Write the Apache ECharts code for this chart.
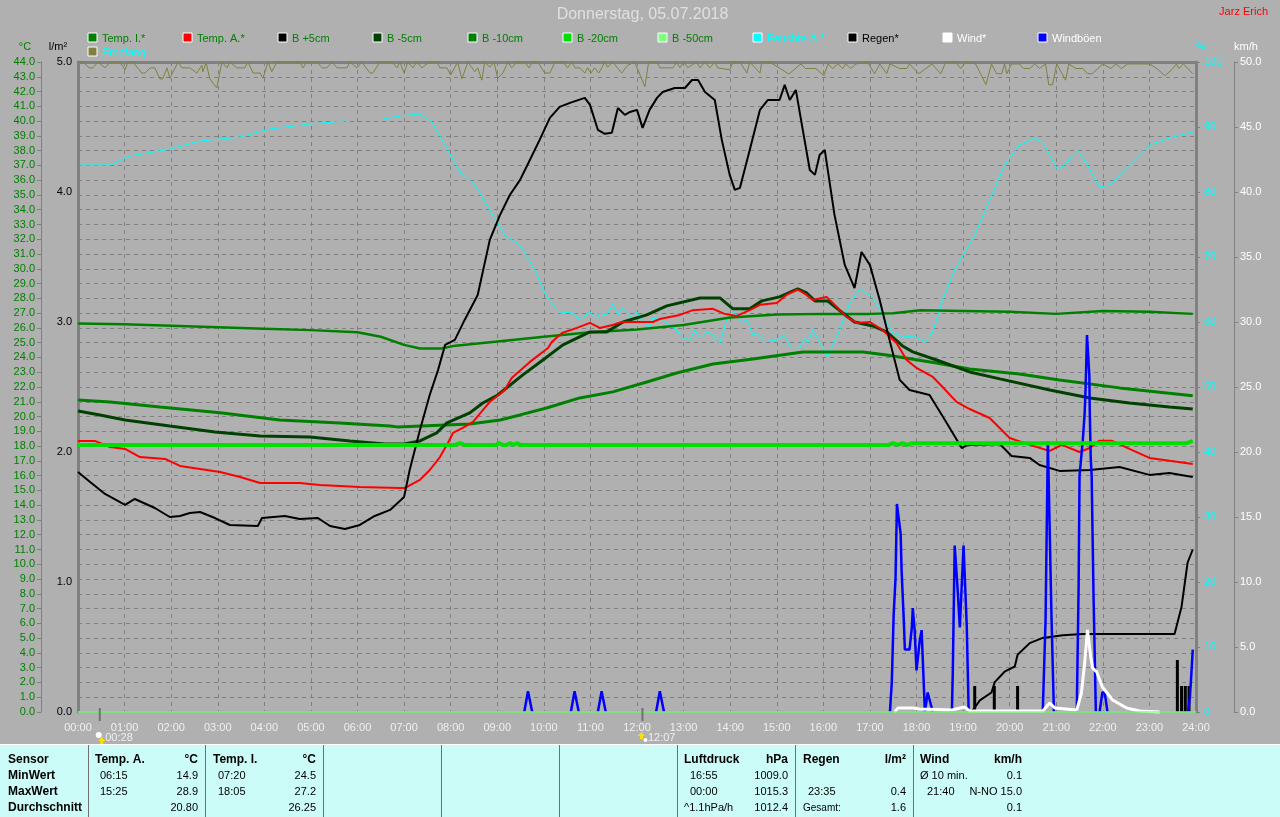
<!DOCTYPE html>
<html><head><meta charset="utf-8">
<style>html,body{margin:0;padding:0;background:#b0b0b0}#c{width:1280px;height:817px}</style>
<script src="https://cdn.jsdelivr.net/npm/echarts@6/dist/echarts.min.js"></script>
</head><body><div id="c"></div>
<script>
const titleText='Donnerstag, 05.07.2018';
const ownerText='Jarz Erich';
const hourLabels=['00:00','01:00','02:00','03:00','04:00','05:00','06:00','07:00','08:00','09:00','10:00','11:00','12:00','13:00','14:00','15:00','16:00','17:00','18:00','19:00','20:00','21:00','22:00','23:00','24:00'];
const legendNames=['Temp. I.*','Temp. A.*','B +5cm','B -5cm','B -10cm','B -20cm','B -50cm','Feuchte A.*','Regen*','Wind*','Windböen','Empfang'];
const legendColors=['#008000','#ff0000','#000000','#004000','#008000','#00e000','#80ff80','#00ffff','#000000','#ffffff','#0000ff','#808040'];
const legendTextColors=['#008000','#008000','#008000','#008000','#008000','#008000','#008000','#00ffff','#000000','#ffffff','#ffffff','#00ffff'];

const tempInside=[[0,26.3],[1,26.25],[2,26.15],[3,26.05],[4,25.95],[5,25.85],[6,25.7],[6.5,25.4],[7,24.85],[7.34,24.6],[7.8,24.6],[8.1,24.8],[9.06,25.1],[10,25.4],[11,25.7],[12,25.9],[13,26.2],[14,26.7],[15,26.9],[16,26.95],[17,26.95],[17.5,27],[18.08,27.2],[19,27.15],[20,27.1],[21,26.95],[22,27.15],[23,27.1],[23.93,26.95]];
const tempOutside=[[0,18.35],[.36,18.35],[.69,17.94],[1.01,17.81],[1.33,17.26],[1.87,17.13],[2.19,16.66],[3.05,16.25],[3.48,15.91],[3.91,15.5],[4.76,15.5],[5.19,15.37],[6.05,15.23],[6.91,15.17],[7.02,15.17],[7.34,15.71],[7.55,16.38],[7.77,17.26],[7.94,18.21],[8.05,18.89],[8.26,19.23],[8.48,19.64],[8.84,20.99],[9.16,21.8],[9.31,22.61],[9.7,23.7],[10.09,24.64],[10.17,25.05],[10.39,25.66],[10.71,26],[10.99,26.34],[11.2,26],[11.48,26.2],[11.67,26.4],[12.34,26.4],[12.49,26.6],[12.7,26.74],[12.92,26.88],[13.2,27.2],[13.63,27.29],[13.88,26.95],[14.14,26.81],[14.42,27.2],[14.64,27.56],[15,27.69],[15.21,28.23],[15.45,28.6],[15.64,28.23],[15.77,27.89],[16.07,28.1],[16.29,27.42],[16.5,26.74],[16.72,26.34],[17,26.4],[17.27,25.86],[17.57,24.98],[17.79,23.83],[18,23.29],[18.35,22.68],[18.56,22],[18.86,20.99],[19.14,20.51],[19.57,19.9],[20,18.55],[20.43,18.08],[20.86,17.67],[21.12,18.08],[21.5,17.6],[21.72,17.87],[21.93,18.37],[22.19,18.37],[22.57,17.81],[23,17.2],[23.43,17],[23.93,16.79]];
const soilPlus5=[[0,16.25],[.26,15.57],[.58,14.76],[1.01,14.02],[1.22,14.42],[1.65,13.81],[1.97,13.2],[2.19,13.27],[2.4,13.47],[2.62,13.54],[2.94,13.13],[3.26,12.66],[3.86,12.59],[3.95,13.13],[4.44,13.27],[4.76,13.07],[5.15,13.13],[5.41,12.59],[5.73,12.39],[6.05,12.66],[6.37,13.27],[6.7,13.68],[7,14.56],[7.12,16.38],[7.34,19.09],[7.55,21.46],[7.73,23.16],[7.88,24.85],[8.09,25.19],[8.3,26.54],[8.58,28.23],[8.84,31.96],[9.06,33.65],[9.27,35],[9.49,36.02],[9.7,37.37],[9.91,38.73],[10.13,40.22],[10.34,40.96],[10.56,41.23],[10.88,41.57],[10.99,41.1],[11.16,39.41],[11.31,39.14],[11.46,39.21],[11.59,40.89],[11.74,40.42],[11.85,40.62],[12,40.76],[12.12,39.54],[12.27,40.76],[12.43,41.57],[12.55,41.97],[12.81,42.24],[13.03,42.24],[13.18,42.78],[13.31,42.78],[13.46,41.97],[13.67,41.43],[13.82,38.73],[13.99,36.36],[14.1,35.34],[14.21,35.48],[14.42,38.05],[14.64,40.76],[14.81,41.43],[15.06,41.43],[15.17,42.45],[15.28,41.43],[15.41,42.11],[15.54,39.74],[15.71,36.69],[15.82,36.36],[15.92,37.71],[16.03,38.05],[16.24,33.65],[16.46,30.26],[16.67,28.7],[16.82,31.14],[17,30.26],[17.21,27.89],[17.42,25.19],[17.64,22.48],[17.85,21.8],[18.28,21.46],[18.61,19.77],[18.97,17.87],[19.1,18.08],[19.79,18.14],[20.04,17.33],[20.43,17.2],[20.64,16.72],[21.07,16.32],[21.72,16.38],[22.36,16.59],[23,16.05],[23.43,16.18],[23.93,15.91]];
const soilMinus5=[[0,20.38],[.47,20.1],[1.01,19.77],[1.97,19.36],[2.94,18.96],[3.91,18.69],[4.98,18.62],[5.84,18.35],[6.59,18.14],[7.0,18.14],[7.34,18.35],[7.7,18.89],[7.92,19.57],[8.41,20.25],[8.69,20.92],[9.01,21.46],[9.55,22.82],[9.98,23.83],[10.41,24.85],[10.99,25.73],[11.35,25.73],[11.7,26.4],[12.21,26.88],[12.64,27.49],[13.35,28.03],[13.78,28.03],[14.06,27.29],[14.42,27.29],[14.68,27.83],[15.06,28.1],[15.45,28.64],[15.64,28.37],[15.82,27.83],[16.09,27.83],[16.42,27.01],[16.67,26.4],[17.06,26.13],[17.36,25.73],[17.7,24.78],[17.92,24.38],[18.43,23.83],[19.14,23.02],[19.79,22.55],[20.86,21.8],[21.72,21.26],[22.57,20.92],[23.43,20.65],[23.93,20.51]];
const soilMinus10=[[0,21.12],[.69,20.99],[1.76,20.65],[3.05,20.25],[4.33,19.77],[5.62,19.57],[6.7,19.36],[6.85,19.3],[8.41,19.5],[9.06,19.77],[9.49,20.11],[10.06,20.58],[10.77,21.26],[11.48,21.67],[12.21,22.34],[12.85,22.95],[13.63,23.56],[14.49,23.9],[15.56,24.37],[16.85,24.37],[17.36,24.17],[18.43,23.63],[19.14,23.22],[20.21,22.88],[21.07,22.48],[22.36,21.94],[23.93,21.4]];
const soilMinus20=[[0,18.08],[8.1,18.08],[8.2,18.2],[8.3,18.08],[8.98,18.08],[9.03,18.2],[9.12,18.08],[9.2,18.08],[9.27,18.2],[9.36,18.08],[9.42,18.2],[9.5,18.08],[17.4,18.08],[17.5,18.2],[17.6,18.08],[17.7,18.2],[17.8,18.08],[17.9,18.2],[23.8,18.2],[23.93,18.35]];
const soilMinus50=[[0,0],[24,0]];
const humidity=[[.04,84.15],[.69,84.15],[1.12,85.54],[1.97,86.6],[2.62,87.85],[3.48,88.46],[4.12,89.69],[4.98,90.46],[5.73,90.92],[6.1,null],[6.55,91.23],[6.91,91.7],[7.34,92],[7.6,90.77],[7.88,87.23],[8.2,83.08],[8.52,81.08],[8.84,77.23],[9.16,73.38],[9.49,71.85],[9.81,68],[10.02,64.46],[10.19,62.62],[10.34,61.38],[10.62,61.54],[10.77,60.31],[10.99,61.54],[11.14,60.31],[11.2,61.38],[11.35,61.08],[11.48,62.77],[11.59,61.08],[11.67,62.15],[11.85,60.77],[12,61.54],[12.12,60],[12.27,59.23],[12.34,60.62],[12.55,60.31],[12.7,59.54],[12.85,58.77],[12.98,57.54],[13.13,57.23],[13.24,58.77],[13.35,57.54],[13.5,58.46],[13.63,58],[13.78,56.77],[13.95,61.08],[14.1,61.54],[14.25,60],[14.36,60.31],[14.49,58],[14.59,58.31],[14.74,56.92],[15,57.23],[15.17,58],[15.28,56.15],[15.49,56],[15.6,57.69],[15.67,56.77],[15.77,58.77],[15.92,56.92],[16.09,54.62],[16.35,58.77],[16.57,62.92],[16.78,65.08],[17.06,63.85],[17.27,61.08],[17.49,58.31],[17.7,57.69],[17.96,57.85],[18.18,56.92],[18.35,58.46],[18.56,63.38],[18.82,68],[19.25,73.38],[19.57,78.77],[19.89,84.15],[20.21,87.23],[20.54,88.31],[20.75,87.23],[21.03,83.38],[21.18,84.15],[21.46,86.46],[21.67,84.15],[21.93,80.77],[22.15,81.08],[22.57,84.15],[23,87.23],[23.43,88.31],[23.93,89.23]];
const reception=[[0,100],[.11,100],[.24,99.1],[.32,99.1],[.43,100],[.58,99.1],[.69,100],[.9,100],[1.01,98.8],[1.07,100],[1.18,100],[1.37,98.3],[1.44,98.3],[1.55,99.1],[1.65,99.1],[1.76,97.4],[1.82,97.4],[1.91,99.1],[1.97,97.5],[2.15,100],[2.23,99.1],[2.4,99.1],[2.55,98.3],[2.66,99.5],[2.68,98.5],[2.75,99.9],[2.83,97.4],[2.98,96],[3.09,100],[3.2,99.1],[3.26,100],[3.41,99.1],[3.58,99.1],[3.65,100],[3.76,98.3],[3.91,98.3],[3.97,97.5],[4.08,100],[4.16,98.5],[4.27,100],[4.76,100],[4.83,99.1],[4.91,100],[5.13,100],[5.24,99.1],[5.34,99.1],[5.45,100],[5.56,99.1],[5.77,99.1],[5.84,100],[5.99,99.1],[6.09,100],[6.27,98.3],[6.33,98.3],[6.48,100],[6.74,100],[6.85,99.1],[6.91,100],[7,98.3],[7.08,100],[7.19,99.1],[7.27,100],[7.38,99.1],[7.45,99.5],[7.55,100],[7.7,100],[7.77,99.1],[7.92,99.1],[8,98],[8.15,100],[8.24,97.4],[8.37,100],[8.52,98.5],[8.58,99.1],[8.67,97.2],[8.73,100],[8.84,99.2],[8.93,100],[9.01,97.5],[9.12,98.3],[9.23,100],[9.31,99.1],[9.42,100],[9.59,100],[9.68,99.1],[9.76,100],[9.87,100],[10.02,98.3],[10.13,98.3],[10.24,100],[10.41,100],[10.51,99.1],[10.6,100],[10.67,99.1],[10.77,99.1],[10.88,98.3],[10.94,99.1],[11.01,98.3],[11.09,99.1],[11.18,98.3],[11.31,100],[11.37,99.2],[11.48,100],[11.67,98.3],[11.8,99.5],[11.95,100],[12.17,96.2],[12.25,100],[12.43,100],[12.49,99.1],[12.77,99.1],[12.85,100],[12.92,99.1],[13,100],[13.09,99.1],[13.28,100],[13.35,99.1],[13.46,100],[13.56,99.1],[13.67,100],[13.73,99.1],[13.99,98.8],[14.06,100],[14.21,100],[14.36,98.3],[14.42,100],[14.64,98.3],[14.68,100],[14.85,100],[15.26,98.15],[15.52,99.7],[15.62,99],[15.84,99],[16.01,97.9],[16.1,99.7],[16.2,99],[16.31,99.7],[16.42,99],[16.48,99.7],[16.59,99],[16.7,99.7],[16.95,100],[17.1,98.2],[17.21,99.7],[17.36,98.2],[17.43,99.7],[17.64,99],[17.79,99],[17.85,99.7],[18.05,98.2],[18.2,99],[18.33,99.7],[18.52,98.2],[18.63,100],[18.84,100],[18.95,99],[19.06,100],[19.27,99.7],[19.49,96.5],[19.61,99.7],[19.72,98.2],[19.83,98.2],[19.89,99.7],[19.94,98.2],[20.04,99.7],[20.21,99.7],[20.3,99],[20.43,99],[20.54,99.7],[20.64,99],[20.77,99.7],[20.84,96.5],[20.92,96.5],[21.01,99.7],[21.2,97.2],[21.27,99.7],[21.42,99],[21.57,99],[21.67,98.2],[21.78,98.2],[21.89,99],[22,99.7],[22.17,99],[22.28,99.7],[22.4,99],[22.53,99.7],[23,99.7],[23.16,99],[23.33,97.9],[23.48,98.8],[23.58,99.7],[23.63,99],[23.73,99.7],[23.93,98.2]];
const rainBars=[[19.25,.2],[19.67,.2],[20.17,.2],[23.6,.4],[23.69,.2],[23.77,.2],[23.85,.2]];
const rainSum=[[19.18,0],[19.36,.09],[19.61,.15],[19.68,.23],[19.89,.31],[20.11,.35],[20.17,.44],[20.43,.53],[20.71,.57],[21.14,.59],[21.57,.6],[23.54,.6],[23.69,.81],[23.82,1.15],[23.93,1.25]];
const wind=[[17.53,0],[17.6,.3],[17.92,.3],[18.07,.23],[18.76,.15],[19.03,.38],[19.14,.08],[20.71,.08],[20.86,.69],[20.97,.31],[21.44,.15],[21.54,1.46],[21.61,3.77],[21.67,6.31],[21.74,4.23],[21.78,3.38],[21.87,3.08],[21.99,1.92],[22.21,.92],[22.51,.31],[22.79,.08],[23.22,0]];
const gusts=[[9.58,0],[9.66,1.6],[9.75,0],[10,null],[10.58,0],[10.66,1.6],[10.75,0],[11,null],[11.16,0],[11.24,1.6],[11.33,0],[11.5,null],[12.41,0],[12.49,1.6],[12.58,0],[13,null],[17.43,0],[17.47,2.3],[17.51,7.5],[17.55,10.3],[17.58,16],[17.62,16],[17.66,13.7],[17.68,10.9],[17.73,6.8],[17.75,4.8],[17.85,4.8],[17.9,6.5],[17.92,8],[17.96,6.3],[18,3.2],[18.07,5.5],[18.11,6.3],[18.18,0],[18.24,1.5],[18.28,1.5],[18.35,0],[18.5,null],[18.76,0],[18.78,3.2],[18.82,12.8],[18.86,12.8],[18.88,9.6],[18.93,6.5],[18.97,6.5],[19.01,12.8],[19.05,12.8],[19.08,6.5],[19.12,0],[19.5,null],[20.71,0],[20.77,7],[20.82,20.8],[20.86,20.8],[20.9,7],[20.95,0],[21.2,null],[21.44,0],[21.48,9.6],[21.5,18.2],[21.57,20.9],[21.61,23],[21.63,24.9],[21.66,29],[21.7,29],[21.71,25.9],[21.72,23],[21.74,19.6],[21.76,18.2],[21.8,9],[21.85,0],[21.9,null],[21.93,0],[21.99,1.5],[22.04,1.5],[22.1,0],[22.5,null],[23.83,0],[23.87,1.2],[23.89,2.3],[23.91,3.5],[23.93,4.8]];

const sunHours=[0.467,12.117];
const sunLabels=['00:28','12:07'];

// Tabellen-Spalten: Kopf links, Kopf rechts, dann je Zeile [links, rechts]
const sensorRows=['Sensor','MinWert','MaxWert','Durchschnitt'];
const tableTempA=[['Temp. A.','°C'],['06:15','14.9'],['15:25','28.9'],['','20.80']];
const tableTempI=[['Temp. I.','°C'],['07:20','24.5'],['18:05','27.2'],['','26.25']];
const tablePressure=[['Luftdruck','hPa'],['16:55','1009.0'],['00:00','1015.3'],['^1.1hPa/h','1012.4']];
const tableRain=[['Regen','l/m²'],['',''],['23:35','0.4'],['Gesamt:','1.6']];
const tableWind=[['Wind','km/h'],['Ø 10 min.','0.1'],['21:40','N-NO 15.0'],['','0.1']];

const FONT='"Liberation Sans",Arial,sans-serif';
const GRAY='#808080';
const g=[];
function txt(x,y,s,o){o=o||{};g.push({type:'text',x:x,y:y,silent:true,z:50,style:{text:s,fill:o.c||'#000',font:(o.b?'bold ':'')+(o.s||11)+'px '+FONT,textAlign:o.a||'left',textVerticalAlign:'middle',textBaseline:'middle'}});}
function rect(x,y,w,h,c,o){g.push({type:'rect',silent:true,z:(o&&o.z)||40,shape:{x:x,y:y,width:w,height:h},style:{fill:c,stroke:(o&&o.st)||null,lineWidth:(o&&o.lw)||0}});}

txt(642.5,15,titleText,{c:'#e0e0e0',s:16,a:'center'});
txt(1268,12,ownerText,{c:'#ff0000',s:11,a:'right'});
legendNames.forEach((n,i)=>{
  const row2=i===11, x=row2?88:88+95*i, y=row2?52:38;
  rect(x,y-5,9,9,legendColors[i],{st:'#ffffff',lw:1});
  txt(x+14,y+0.5,n,{c:legendTextColors[i],s:11});
});
txt(25,47,'°C',{c:'#008000',s:11,a:'center'});
txt(58,47,'l/m²',{c:'#000',s:11,a:'center'});
txt(1201,47,'%',{c:'#00ffff',s:11,a:'center'});
txt(1246,47,'km/h',{c:'#ffffff',s:11,a:'center'});
// oberer Rahmen
rect(77,61,1120,3,GRAY,{z:1});

// Tabelle
rect(0,744,1280,73,'#ccfcf8',{z:30});
rect(0,744,1280,1,'#ffffff',{z:31});
[88,205,323,441,559,677,795,913].forEach(x=>rect(x,745,1,72,'#707070',{z:31}));
const rowY=[760,776,792,808];
sensorRows.forEach((s,i)=>txt(8,rowY[i],s,{b:true,s:12}));
function col(rows,xHead,xItem,xRight){rows.forEach((r,i)=>{
  const hd=i===0, small=r[0]==='Gesamt:';
  txt(hd||small||r[0].charAt(0)==='^'||r[0].charAt(0)==='Ø'?xHead:xItem,rowY[i],r[0],{b:hd,s:hd?12:(small?10:11)});
  txt(xRight,rowY[i],r[1],{b:hd,s:hd?12:11,a:'right'});
});}
col(tableTempA,95,100,198);
col(tableTempI,213,218,316);
col(tablePressure,684,690,788);
col(tableRain,803,808,906);
col(tableWind,920,927,1022);

function line(name,data,yAxisIndex,color,width,extra){
  return Object.assign({name:name,type:'line',data:data,yAxisIndex:yAxisIndex,symbol:'none',smooth:false,clip:false,
    lineStyle:{color:color,width:width,join:'bevel'},itemStyle:{color:color},silent:true,animation:false},extra||{});
}
const series=[
  line('Feuchte A.*',humidity,2,'#00ffff',1),
  line('Empfang',reception,2,'#808040',1),
  line('Temp. I.*',tempInside,0,'#008000',2.5),
  line('B -10cm',soilMinus10,0,'#008000',3),
  line('B -5cm',soilMinus5,0,'#004000',3),
  line('Temp. A.*',tempOutside,0,'#ff0000',2),
  line('B +5cm',soilPlus5,0,'#000000',2),
  line('Regen Summe',rainSum,1,'#000000',2),
  {name:'Regen*',type:'bar',data:rainBars,yAxisIndex:1,barWidth:3,itemStyle:{color:'#000'},silent:true,animation:false},
  line('Windböen',gusts,3,'#0000ff',2.5),
  line('Wind*',wind,3,'#ffffff',3),
  line('B -20cm',soilMinus20,0,'#00e000',4),
  line('B -50cm',soilMinus50,0,'#80ff80',1.5)
];

const chart=echarts.init(document.getElementById('c'));
chart.setOption({
  animation:false,backgroundColor:'#b0b0b0',
  textStyle:{fontFamily:FONT},
  grid:{left:78,right:84,top:62,height:650,show:true,borderColor:GRAY,borderWidth:2,backgroundColor:'transparent'},
  xAxis:{type:'value',min:0,max:24,interval:1,
    axisLine:{show:false},axisTick:{show:false},
    axisLabel:{color:'#f0f0f0',fontSize:11,margin:10,fontFamily:FONT,formatter:v=>hourLabels[v],showMinLabel:true,showMaxLabel:true},
    splitLine:{show:true,lineStyle:{color:GRAY,type:[4,4],width:1}}},
  yAxis:[
    {type:'value',position:'left',offset:37,min:0,max:44,interval:1,
      axisLine:{show:true,onZero:false,lineStyle:{color:GRAY,width:1}},axisTick:{show:true,length:4,lineStyle:{color:GRAY}},
      axisLabel:{color:'#008000',fontSize:11,margin:6,fontFamily:FONT,formatter:v=>v.toFixed(1)},
      splitLine:{show:true,lineStyle:{color:GRAY,type:[4,4],width:1}}},
    {type:'value',position:'left',offset:0,min:0,max:5,interval:1,
      axisLine:{show:true,onZero:false,lineStyle:{color:GRAY,width:3}},axisTick:{show:false},
      axisLabel:{color:'#000',fontSize:11,margin:6,fontFamily:FONT,formatter:v=>v.toFixed(1)},splitLine:{show:false}},
    {type:'value',position:'right',offset:0,min:0,max:100,interval:10,
      axisLine:{show:true,onZero:false,lineStyle:{color:GRAY,width:3}},axisTick:{show:true,length:4,lineStyle:{color:GRAY}},
      axisLabel:{color:'#00ffff',fontSize:11,margin:8,fontFamily:FONT},splitLine:{show:false}},
    {type:'value',position:'right',offset:38,min:0,max:50,interval:5,
      axisLine:{show:true,onZero:false,lineStyle:{color:GRAY,width:1}},axisTick:{show:true,length:4,lineStyle:{color:GRAY}},
      axisLabel:{color:'#ffffff',fontSize:11,margin:6,fontFamily:FONT,formatter:v=>v.toFixed(1)},splitLine:{show:false}}
  ],
  series:series,
  graphic:g
});
// Sonnenauf-/-untergang
const extra=[];
sunHours.forEach((h,i)=>{
  const x=chart.convertToPixel({xAxisIndex:0},h);
  extra.push({type:'rect',silent:true,z:60,shape:{x:x-1,y:708,width:2,height:13},style:{fill:'#707070'}});
  const riseFirst=i===0;
  extra.push({type:'circle',silent:true,z:60,shape:{cx:riseFirst?x-1:x+3,cy:riseFirst?735:740,r:riseFirst?3:2},style:{fill:'#ffffff'}});
  const ax=riseFirst?x+2:x-1, ay=riseFirst?736:731;
  extra.push({type:'polygon',silent:true,z:61,shape:{points:[[ax,ay+1],[ax+3.5,ay+5],[ax+1.5,ay+5],[ax+1.5,ay+8],[ax-1.5,ay+8],[ax-1.5,ay+5],[ax-3.5,ay+5]]},style:{fill:'#ffe000'}});
  extra.push({type:'text',silent:true,z:60,x:x+5.5,y:738,style:{text:sunLabels[i],fill:'#f0f0f0',font:'11px '+FONT,textBaseline:'middle',textVerticalAlign:'middle'}});
});
chart.setOption({graphic:g.concat(extra)});
</script></body></html>
